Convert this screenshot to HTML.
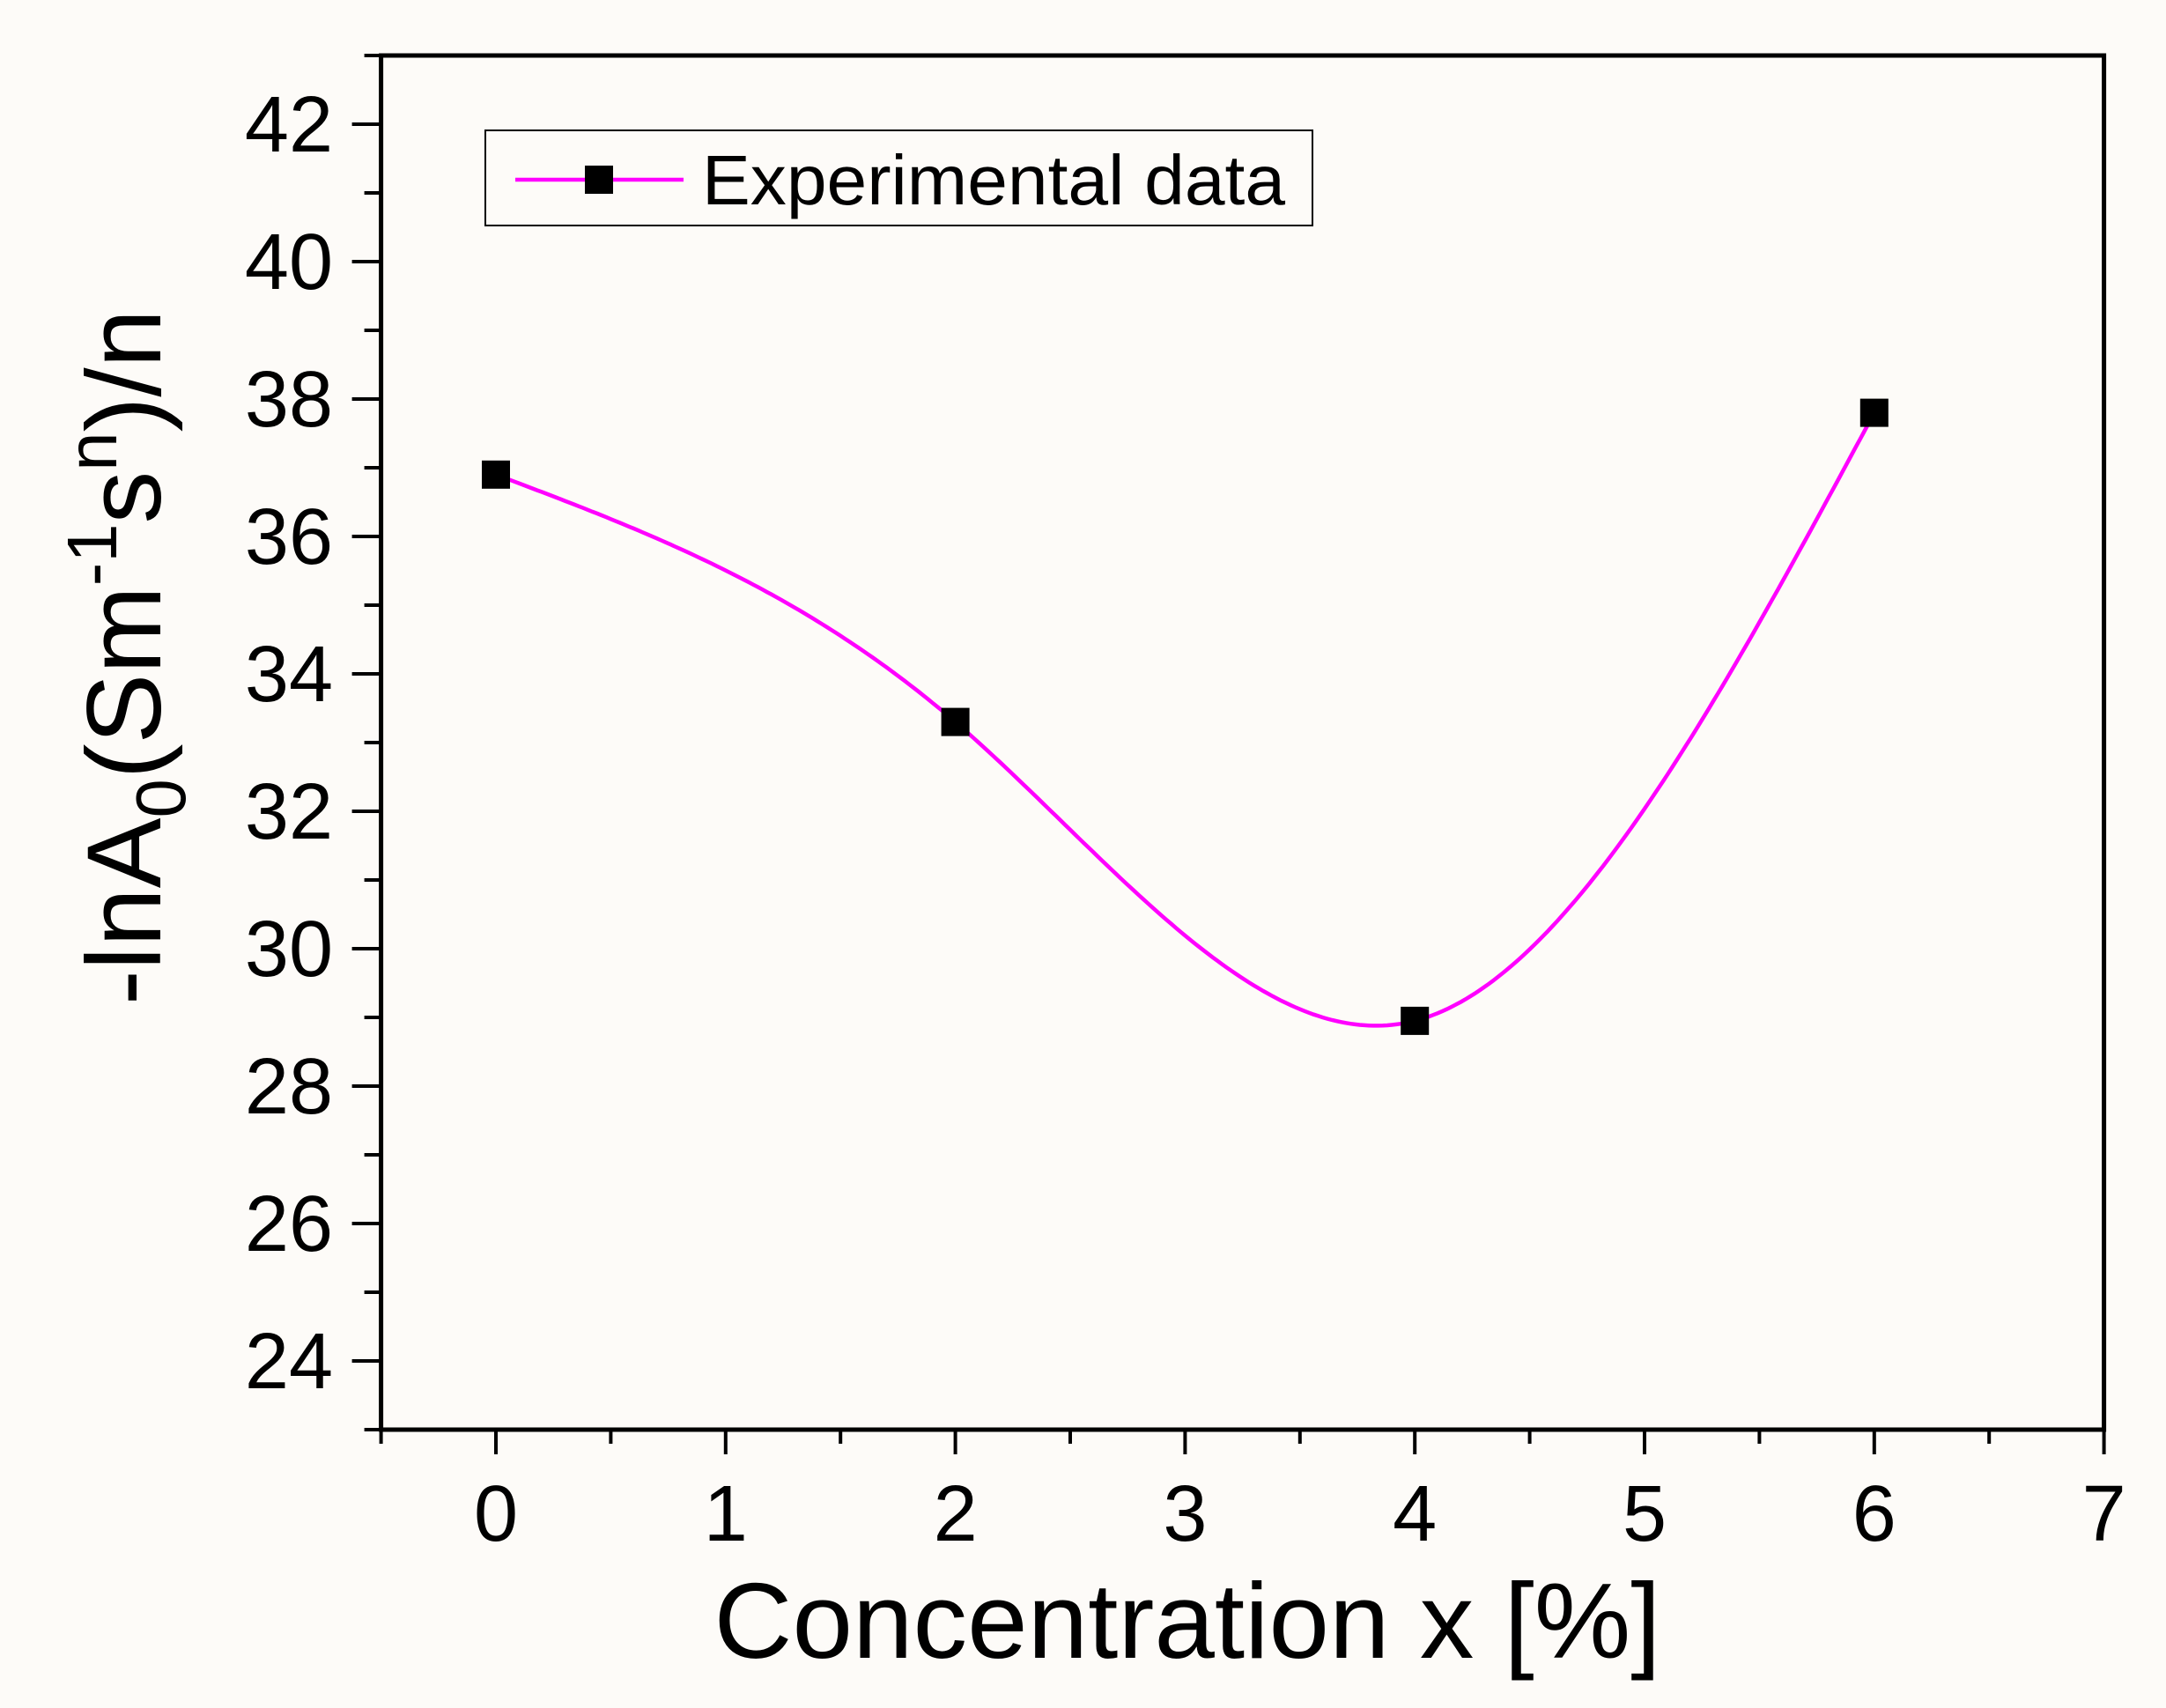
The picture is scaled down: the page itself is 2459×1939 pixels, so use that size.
<!DOCTYPE html>
<html><head><meta charset="utf-8"><style>
html,body{margin:0;padding:0;background:#fdfbf8;}
svg{display:block;font-family:"Liberation Sans",Arial,sans-serif;}
</style></head><body>
<svg id="chart" width="2459" height="1939" viewBox="0 0 2459 1939" xmlns="http://www.w3.org/2000/svg">
<rect x="0" y="0" width="2459" height="1939" fill="#fdfbf8"/>
<g id="axes"></g>
<g id="series"></g>
<g>
  <rect x="551" y="148" width="939" height="108" fill="#fdfbf8" stroke="#000" stroke-width="2"/>
  <line x1="585" y1="204" x2="776" y2="204" stroke="#ff00ff" stroke-width="4.5"/>
  <rect x="664" y="188" width="32" height="32" fill="#000"/>
  <text x="797" y="232" font-size="80" textLength="662" lengthAdjust="spacingAndGlyphs">Experimental data</text>
</g>
<text x="1348" y="1882" font-size="122" text-anchor="middle" textLength="1075" lengthAdjust="spacingAndGlyphs">Concentration x [%]</text>
<text transform="translate(182,1141) rotate(-90)" font-size="120" textLength="790" lengthAdjust="spacingAndGlyphs">-lnA<tspan font-size="80" dy="28">0</tspan><tspan dy="-28">(Sm</tspan><tspan font-size="80" dy="-50">-1</tspan><tspan dy="50">s</tspan><tspan font-size="80" dy="-50">n</tspan><tspan dy="50">)/n</tspan></text>
</svg>
<script>
const xCategories = [0, 2, 4, 6];
const yValues = [36.9, 33.3, 28.95, 37.8];
const xTickLabels = ["0","1","2","3","4","5","6","7"];
const yTickLabels = ["24","26","28","30","32","34","36","38","40","42"];

const NS = "http://www.w3.org/2000/svg";
const X0 = 563, XPU = 260.8;
const Y42 = 141, YPU = 78;
function sx(v){ return X0 + v * XPU; }
function sy(v){ return Y42 + (42 - v) * YPU; }
const L = sx(-0.5), R = sx(7), T = sy(43), B = sy(23);

function mk(tag, attrs, parent){
  const e = document.createElementNS(NS, tag);
  for (const k in attrs) e.setAttribute(k, attrs[k]);
  parent.appendChild(e);
  return e;
}
const axes = document.getElementById('axes');
const frame = mk('rect', {x:L, y:T, width:R-L, height:B-T, fill:'none', stroke:'#000', 'stroke-width':5}, axes);



for (let v = -0.5; v <= 7.001; v += 0.5) {
  const major = Math.abs(v - Math.round(v)) < 1e-6;
  const t = mk('line', {x1:sx(v), y1:B, x2:sx(v), y2:B + (major ? 28 : 16), stroke:'#000', 'stroke-width':4}, axes);
  
  
}
xTickLabels.forEach(function(s){
  const t = mk('text', {x:sx(parseFloat(s)), y:1749, 'font-size':90, 'text-anchor':'middle'}, axes);
  t.textContent = s;
  
  
});
for (let v = 23; v <= 43.001; v += 1) {
  const major = v % 2 === 0;
  const t = mk('line', {x1:L - (major ? 33 : 19), y1:sy(v), x2:L, y2:sy(v), stroke:'#000', 'stroke-width':4}, axes);
  
  
}
yTickLabels.forEach(function(s){
  const t = mk('text', {x:378, y:sy(parseFloat(s)) + 31, 'font-size':90, 'text-anchor':'end'}, axes);
  t.textContent = s;
  
  
});

function spline(xs, ys){
  const n = xs.length, h = [], a = [], l = [1], mu = [0], z = [0], c = new Array(n).fill(0), b = [], d = [];
  for (let i = 0; i < n-1; i++) h[i] = xs[i+1]-xs[i];
  for (let i = 1; i < n-1; i++) a[i] = 3/h[i]*(ys[i+1]-ys[i]) - 3/h[i-1]*(ys[i]-ys[i-1]);
  for (let i = 1; i < n-1; i++){
    l[i] = 2*(xs[i+1]-xs[i-1]) - h[i-1]*mu[i-1];
    mu[i] = h[i]/l[i];
    z[i] = (a[i] - h[i-1]*z[i-1]) / l[i];
  }
  l[n-1] = 1; z[n-1] = 0;
  for (let j = n-2; j >= 0; j--){
    c[j] = z[j] - mu[j]*c[j+1];
    b[j] = (ys[j+1]-ys[j])/h[j] - h[j]*(c[j+1]+2*c[j])/3;
    d[j] = (c[j+1]-c[j])/(3*h[j]);
  }
  return function(x){
    let i = 0;
    while (i < n-2 && x > xs[i+1]) i++;
    const dx = x - xs[i];
    return ys[i] + b[i]*dx + c[i]*dx*dx + d[i]*dx*dx*dx;
  };
}
const f = spline(xCategories, yValues);
const series = document.getElementById('series');
let dStr = '';
const x0 = xCategories[0], x1 = xCategories[xCategories.length-1];
for (let k = 0; k <= 300; k++){
  const x = x0 + (x1 - x0) * k / 300;
  dStr += (k ? 'L' : 'M') + sx(x).toFixed(1) + ',' + sy(f(x)).toFixed(1);
}
const curve = mk('path', {d:dStr, fill:'none', stroke:'#ff00ff', 'stroke-width':4.5}, series);


xCategories.forEach(function(x, i){
  const m = mk('rect', {x:sx(x)-16, y:sy(yValues[i])-16, width:32, height:32, fill:'#000'}, series);
  
  
});
</script>
</body></html>
